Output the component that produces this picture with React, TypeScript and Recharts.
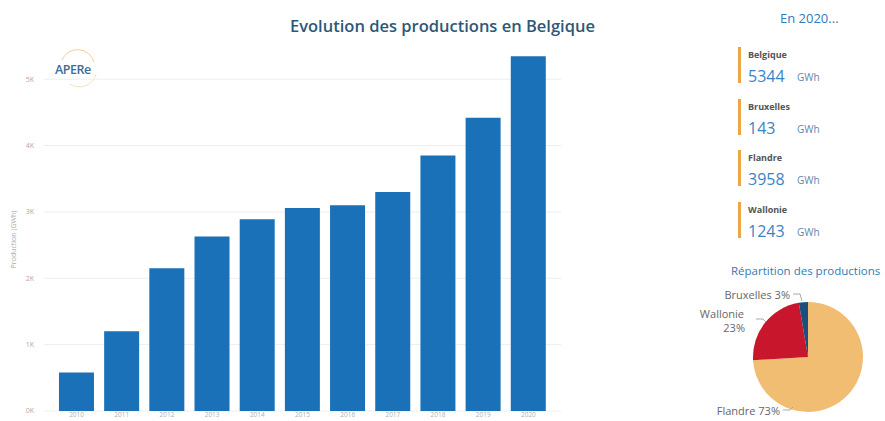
import { BarChart, Bar, XAxis, YAxis, CartesianGrid, PieChart, Pie, Cell, Label } from 'recharts';

const years = ['2010', '2011', '2012', '2013', '2014', '2015', '2016', '2017', '2018', '2019', '2020'];
const production = [580, 1200, 2150, 2630, 2890, 3060, 3100, 3300, 3850, 4420, 5344];
const yTicks = [0, 1000, 2000, 3000, 4000, 5000];
const yMax = 5500;

const regions = ['Belgique', 'Bruxelles', 'Flandre', 'Wallonie'];
const regionValues = [5344, 143, 3958, 1243];

const pieNames = ['Flandre', 'Wallonie', 'Bruxelles'];
const pieValues = [3958, 1243, 143];
const pieShares = ['73%', '23%', '3%'];
const pieColors = ['#f0bd72', '#c8162c', '#1d4f7c'];

const FONT = '"Open Sans", "Noto Sans", sans-serif';

const barData = years.map((year, i) => ({ year, production: production[i] }));
const pieData = pieNames.map((name, i) => ({ name, value: pieValues[i], share: pieShares[i] }));

// Power BI style labels sitting left of the pie, with small leader lines
// eslint-disable-next-line @typescript-eslint/no-explicit-any
function renderPieLabel(props: any) {
    const { cx, cy, outerRadius: r, index } = props;
    const d = pieData[index];
    const textStyle = { fontSize: 11, fill: '#666', fontFamily: FONT };
    const line = { stroke: '#aaa', strokeWidth: 1, fill: 'none' };
    if (d.name === 'Bruxelles') {
        const y = cy - r - 8;
        return (
            <g>
                <text x={cx - 18} y={y} textAnchor="end" dominantBaseline="central" style={textStyle}>{`${d.name} ${d.share}`}</text>
                <polyline points={`${cx - 15},${y} ${cx - 8},${y} ${cx - 6},${y + 7}`} style={line} />
            </g>
        );
    }
    if (d.name === 'Wallonie') {
        return (
            <g>
                <text x={cx - 64} y={cy - 44} textAnchor="end" dominantBaseline="central" style={textStyle}>{d.name}</text>
                <text x={cx - 63} y={cy - 30} textAnchor="end" dominantBaseline="central" style={textStyle}>{d.share}</text>
                <polyline points={`${cx - 52},${cy - 38} ${cx - 45},${cy - 38} ${cx - 42},${cy - 35}`} style={line} />
            </g>
        );
    }
    const y = cy + r - 2;
    return (
        <g>
            <text x={cx - 28} y={y} textAnchor="end" dominantBaseline="central" style={textStyle}>{`${d.name} ${d.share}`}</text>
            <polyline points={`${cx - 25},${y} ${cx - 18},${y} ${cx - 15},${y - 3}`} style={line} />
        </g>
    );
}

export default function App() {
    return (
        <div style={{ position: 'absolute', left: 0, top: 0, width: 885, height: 421, overflow: 'hidden', background: '#fff', fontFamily: FONT }}>
            <div style={{ position: 'absolute', left: 0, top: 14, width: 885, textAlign: 'center', fontSize: 16.5, fontWeight: 600, color: '#2d5878' }}>
                Evolution des productions en Belgique
            </div>

            {/* logo */}
            <svg width={60} height={40} style={{ position: 'absolute', left: 50, top: 48 }}>
                <path d="M 12 12 A 17 17 0 0 1 44 14" fill="none" stroke="#f3cf97" strokeWidth={1} />
                <path d="M 46 26 A 17 17 0 0 1 20 36" fill="none" stroke="#f3e1c4" strokeWidth={1} />
                <text x={5} y={26} style={{ fontSize: 12.5, fill: '#3d6c98', fontFamily: FONT, fontWeight: 600, letterSpacing: -0.5 }}>APERe</text>
            </svg>

            <div style={{ position: 'absolute', left: 0, top: 0 }}>
                <BarChart width={570} height={421} data={barData} margin={{ top: 46, right: 9, bottom: 0, left: 0 }} barCategoryGap="11%">
                    <CartesianGrid
                        vertical={false}
                        stroke="#eeeeee"
                        // eslint-disable-next-line @typescript-eslint/no-explicit-any
                        horizontalCoordinatesGenerator={({ offset }: any) => yTicks.map((t) => offset.top + offset.height * (1 - t / yMax))}
                    />
                    <XAxis
                        dataKey="year"
                        interval={0}
                        tickLine={false}
                        axisLine={false}
                        tickSize={0}
                        tickMargin={1}
                        height={10}
                        padding={{ left: 10, right: 10 }}
                        tick={{ fontSize: 6.5, fill: '#b0b0b0' }}
                    />
                    <YAxis
                        width={44}
                        domain={[0, yMax]}
                        ticks={yTicks}
                        tickFormatter={(v: number) => `${v / 1000}K`}
                        tickLine={false}
                        axisLine={false}
                        tickSize={0}
                        tickMargin={10}
                        tick={{ fontSize: 7, fill: '#aaaaaa' }}
                    >
                        <Label
                            // eslint-disable-next-line @typescript-eslint/no-explicit-any
                            content={(p: any) => {
                                const vb = p.viewBox;
                                const x = vb.x + 13;
                                const y = vb.y + vb.height / 2 + 11;
                                return (
                                    <text x={x} y={y} textAnchor="middle" dominantBaseline="central" transform={`rotate(-90, ${x}, ${y})`} style={{ fontSize: 7, fill: '#aaa' }}>
                                        Production (GWh)
                                    </text>
                                );
                            }}
                        />
                    </YAxis>
                    <Bar dataKey="production" fill="#1a71b8" isAnimationActive={false} />
                </BarChart>
            </div>

            {/* key figures */}
            <div style={{ position: 'absolute', left: 780, top: 9, fontSize: 13, color: '#2e7cb8' }}>En 2020...</div>
            {regions.map((name, i) => {
                const top = 47 + i * 51.7;
                return (
                    <div key={name}>
                        <div style={{ position: 'absolute', left: 738, top, width: 2.5, height: 36, background: '#eea546' }} />
                        <div style={{ position: 'absolute', left: 748, top: top + 1, fontSize: 9, fontWeight: 700, color: '#555' }}>{name}</div>
                        <div style={{ position: 'absolute', left: 748, top: top + 18, fontSize: 16, color: '#3a84c4', lineHeight: '22px' }}>{regionValues[i]}</div>
                        <div style={{ position: 'absolute', left: 797, top: top + 23, fontSize: 10, color: '#5f86ad' }}>GWh</div>
                    </div>
                );
            })}

            <div style={{ position: 'absolute', left: 731, top: 263, fontSize: 11.5, color: '#2e7cb8', whiteSpace: 'nowrap' }}>Répartition des productions</div>
            <div style={{ position: 'absolute', left: 690, top: 280 }}>
                <PieChart width={195} height={141} margin={{ top: 0, right: 0, bottom: 0, left: 0 }}>
                    <Pie
                        data={pieData}
                        dataKey="value"
                        nameKey="name"
                        cx={118}
                        cy={77}
                        outerRadius={55}
                        startAngle={90}
                        endAngle={-270}
                        stroke="none"
                        label={renderPieLabel}
                        labelLine={false}
                        isAnimationActive={false}
                    >
                        {pieData.map((d, i) => (
                            <Cell key={d.name} fill={pieColors[i]} />
                        ))}
                    </Pie>
                </PieChart>
            </div>
        </div>
    );
}
